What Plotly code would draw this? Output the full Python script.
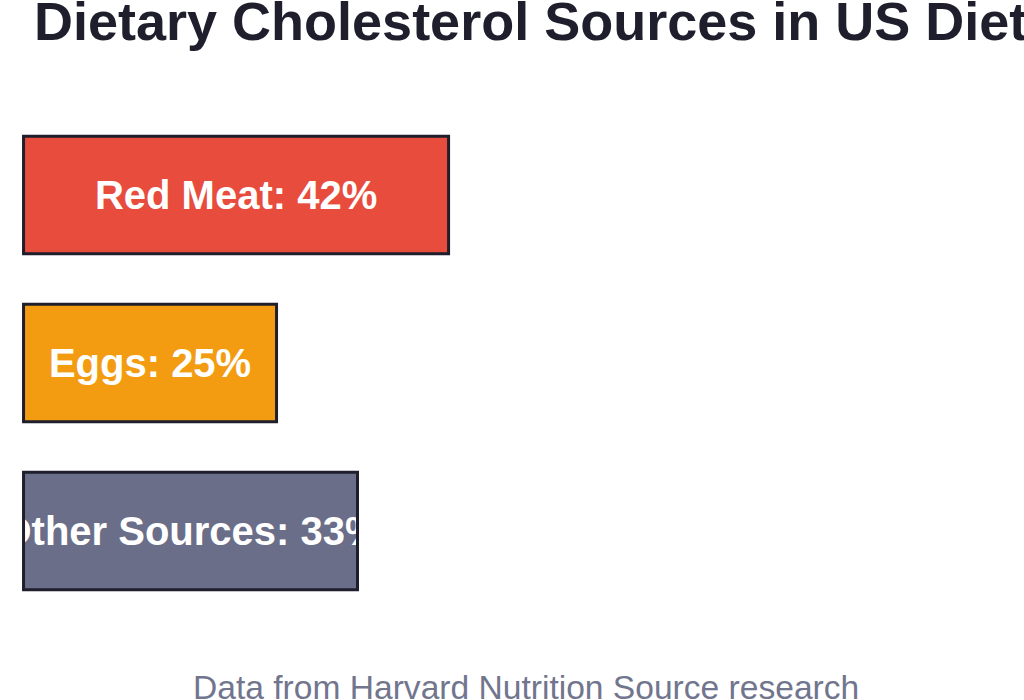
import plotly.graph_objects as go

categories = ["Red Meat", "Eggs", "Other Sources"]
values = [42, 25, 33]
colors = ["#e74c3c", "#f39c12", "#6b6e88"]
labels = [f"{c}: {v}%" for c, v in zip(categories, values)]

title_text = "Dietary Cholesterol Sources in US Diet"
footer_text = "Data from Harvard Nutrition Source research"

fig = go.Figure()
# filled bars with centered labels
fig.add_trace(go.Bar(
    y=categories, x=values, orientation="h",
    marker=dict(color=colors, line=dict(width=0)),
    text=labels, textposition="inside", insidetextanchor="middle",
    textangle=0, constraintext="none",
    textfont=dict(family="Liberation Sans, Arial, sans-serif", size=40, color="white", weight="bold"),
    width=0.7, hoverinfo="skip", showlegend=False,
))
# outline bars drawn on top
fig.add_trace(go.Bar(
    y=categories, x=values, orientation="h",
    marker=dict(color="rgba(0,0,0,0)", line=dict(width=3, color="#1e1e2c")),
    width=0.7, hoverinfo="skip", showlegend=False, cliponaxis=False,
))

fig.update_layout(
    barmode="overlay",
    width=1024, height=700,
    margin=dict(l=20, r=0, t=111, b=85),
    paper_bgcolor="white", plot_bgcolor="white",
    xaxis=dict(range=[-0.35, 98.86], visible=False, fixedrange=True),
    yaxis=dict(autorange="reversed", visible=False, fixedrange=True),
    showlegend=False,
)
fig.add_annotation(
    text=title_text, xref="paper", yref="paper", x=0, y=1,
    xshift=12, yshift=90, xanchor="left", yanchor="middle", showarrow=False,
    font=dict(family="Liberation Sans, Arial, sans-serif", size=54, color="#1e1e2c", weight="bold"),
)
fig.add_annotation(
    text=footer_text, xref="paper", yref="paper", x=0.5, y=0,
    xshift=4, yshift=-72, xanchor="center", yanchor="middle", showarrow=False,
    font=dict(family="Liberation Sans, Arial, sans-serif", size=33.6, color="#71758e"),
)
fig.write_html("out.html")
